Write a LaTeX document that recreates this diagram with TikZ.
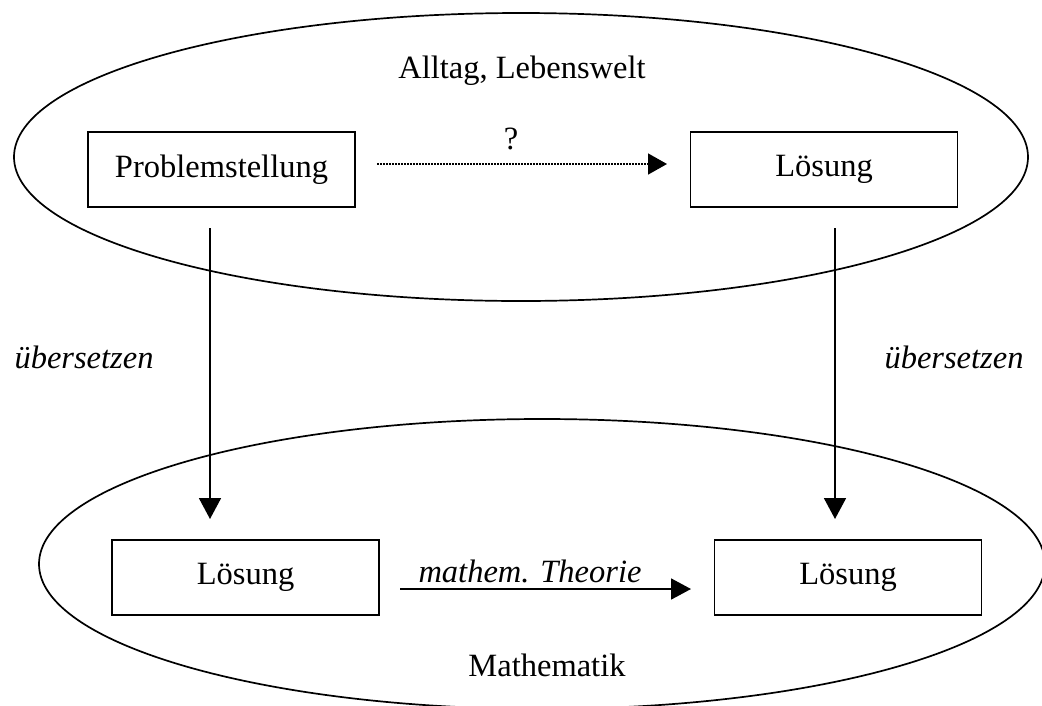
\documentclass[tikz,border=0pt]{standalone}
\usepackage{fontspec}
\setmainfont{Liberation Serif}
\usetikzlibrary{arrows.meta,shapes.geometric}
\begin{document}
\begin{tikzpicture}[x=1pt,y=-1pt,
  font=\fontsize{32.5}{38}\selectfont,
  region/.style={draw,ellipse,line width=1.7pt,inner sep=0pt},
  stepbox/.style={draw,line width=1.8pt,minimum width=267pt,minimum height=75pt,inner sep=0pt},
  flow/.style={line width=1.8pt,-{Triangle[length=21pt,width=22pt]}},
  guess/.style={line width=1.6pt,dash pattern=on 1.6pt off 1.4pt,-{Triangle[length=19pt,width=21pt]}},
  tag/.style={inner sep=0pt},
  slanted/.style={tag,font=\fontsize{32.5}{38}\selectfont\itshape}]
\useasboundingbox (0,0) rectangle (1042,705);

% the two domains
\node[region,minimum width=1014pt,minimum height=288pt] (life) at (521,157) {};
\node[region,minimum width=1006pt,minimum height=290pt] (math) at (542,564) {};
\node[tag] (lifelabel) at (522,71) {Alltag, Lebenswelt};
\node[tag] (mathlabel) at (547,665) {Mathematik};

% boxes
\node[stepbox] (prob) at (221.5,169.5) {Problemstellung};
\node[stepbox] (sol) at (824,169.5) {Lösung};
\node[stepbox] (msol1) at (245.5,577.5) {Lösung};
\node[stepbox] (msol2) at (848,577.5) {Lösung};

% unknown direct way
\coordinate (q0) at (377,164);
\coordinate (q1) at (667,164);
\draw[guess] (q0) -- (q1);
\node[tag] (qmark) at (511,139) {?};

% translation arrows
\coordinate (t1a) at (210,228);
\coordinate (t1b) at (210,519);
\coordinate (t2a) at (835,228);
\coordinate (t2b) at (835,519);
\draw[flow] (t1a) -- (t1b);
\draw[flow] (t2a) -- (t2b);
\node[slanted] (tr1) at (84,357) {übersetzen};
\node[slanted] (tr2) at (954,357) {übersetzen};

% mathematical solution
\coordinate (m0) at (400,589);
\coordinate (m1) at (691,589);
\draw[flow,-{Triangle[length=20pt,width=21pt]}] (m0) -- (m1);
\node[slanted] (theory) at (530,571) {mathem. Theorie};
\end{tikzpicture}
\end{document}
